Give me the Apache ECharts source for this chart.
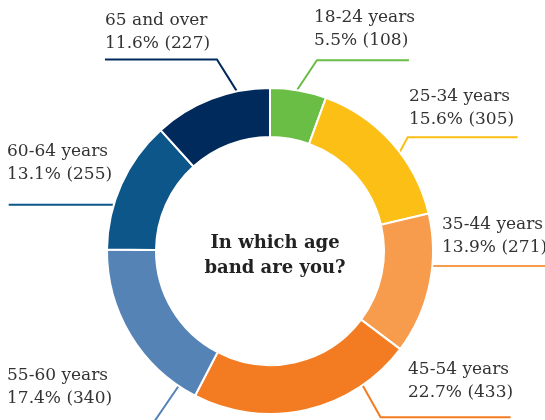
<!DOCTYPE html>
<html>
<head>
<meta charset="utf-8">
<style>
  html, body { margin: 0; padding: 0; background: #ffffff; }
  #chart { width: 545px; height: 420px; }
</style>
<script src="https://cdn.jsdelivr.net/npm/echarts@6/dist/echarts.min.js"></script>
</head>
<body>
<div id="chart"></div>
<script>
// Survey answers: age bands, respondent counts and the reported shares
const categories = ['18-24 years', '25-34 years', '35-44 years', '45-54 years', '55-60 years', '60-64 years', '65 and over'];
const counts = [108, 305, 271, 433, 340, 255, 227];
const shares = ['5.5%', '15.6%', '13.9%', '22.7%', '17.4%', '13.1%', '11.6%'];

// Styling
const COLORS = ['#6abd45', '#fbbf15', '#f69c4c', '#f37c22', '#5583b6', '#0d5689', '#002a5c'];
const CX = 270, CY = 251, R_IN = 114, R_OUT = 163;
const FONT = '"DejaVu Serif", "Liberation Serif", serif';

// Leader line geometry per label: where it leaves the ring (degrees clockwise
// from 12 o'clock), the bend relative to that point, the horizontal run,
// and where the two-line text block sits.
const LABEL_GEOM = [
  { angle: 9.5,   bend: [20, -30],  run: 92,   text: [314, 29] },
  { angle: 52.7,  bend: [8, -15],   run: 110,  text: [409, 108] },
  { angle: 95.3,  bend: [0, 0],     run: 115,  text: [442, 236] },
  { angle: 145.4, bend: [18, 32],   run: 130,  text: [408, 381] },
  { angle: 214.1, bend: [-26, 38],  run: -140, text: [7, 387] },
  { angle: 286.5, bend: [0, 0],     run: -105, text: [7, 163] },
  { angle: 348.3, bend: [-20, -32], run: -112, text: [105, 32] }
];

const chart = echarts.init(document.getElementById('chart'), null, { renderer: 'canvas' });

const seriesData = categories.map((name, i) => ({
  name: name,
  value: counts[i],
  itemStyle: { color: COLORS[i] },
  labelLine: { lineStyle: { color: COLORS[i], width: 2 } }
}));

chart.setOption({
  backgroundColor: '#ffffff',
  animation: false,
  title: {
    text: 'In which age\nband are you?',
    left: CX,
    top: CY,
    textAlign: 'center',
    textVerticalAlign: 'middle',
    textStyle: {
      fontFamily: FONT,
      fontSize: 18,
      fontWeight: 'bold',
      color: '#222222',
      lineHeight: 25
    }
  },
  series: [{
    type: 'pie',
    center: [CX, CY],
    radius: [R_IN, R_OUT],
    startAngle: 90,
    clockwise: true,
    avoidLabelOverlap: false,
    itemStyle: { borderColor: '#ffffff', borderWidth: 2 },
    label: {
      show: true,
      position: 'outside',
      fontFamily: FONT,
      fontSize: 17,
      lineHeight: 23,
      color: '#333333',
      align: 'left',
      formatter: p => p.name + '\n' + shares[p.dataIndex] + ' (' + p.value + ')'
    },
    labelLine: { show: true, length: 10, length2: 10, smooth: false },
    labelLayout: function (p) {
      const g = LABEL_GEOM[p.dataIndex];
      const a = g.angle * Math.PI / 180;
      const sx = CX + R_OUT * Math.sin(a);
      const sy = CY - R_OUT * Math.cos(a);
      const bx = sx + g.bend[0];
      const by = sy + g.bend[1];
      return {
        x: g.text[0],
        y: g.text[1],
        align: 'left',
        verticalAlign: 'middle',
        labelLinePoints: [[sx, sy], [bx, by], [bx + g.run, by]]
      };
    },
    data: seriesData
  }]
});
</script>
</body>
</html>
